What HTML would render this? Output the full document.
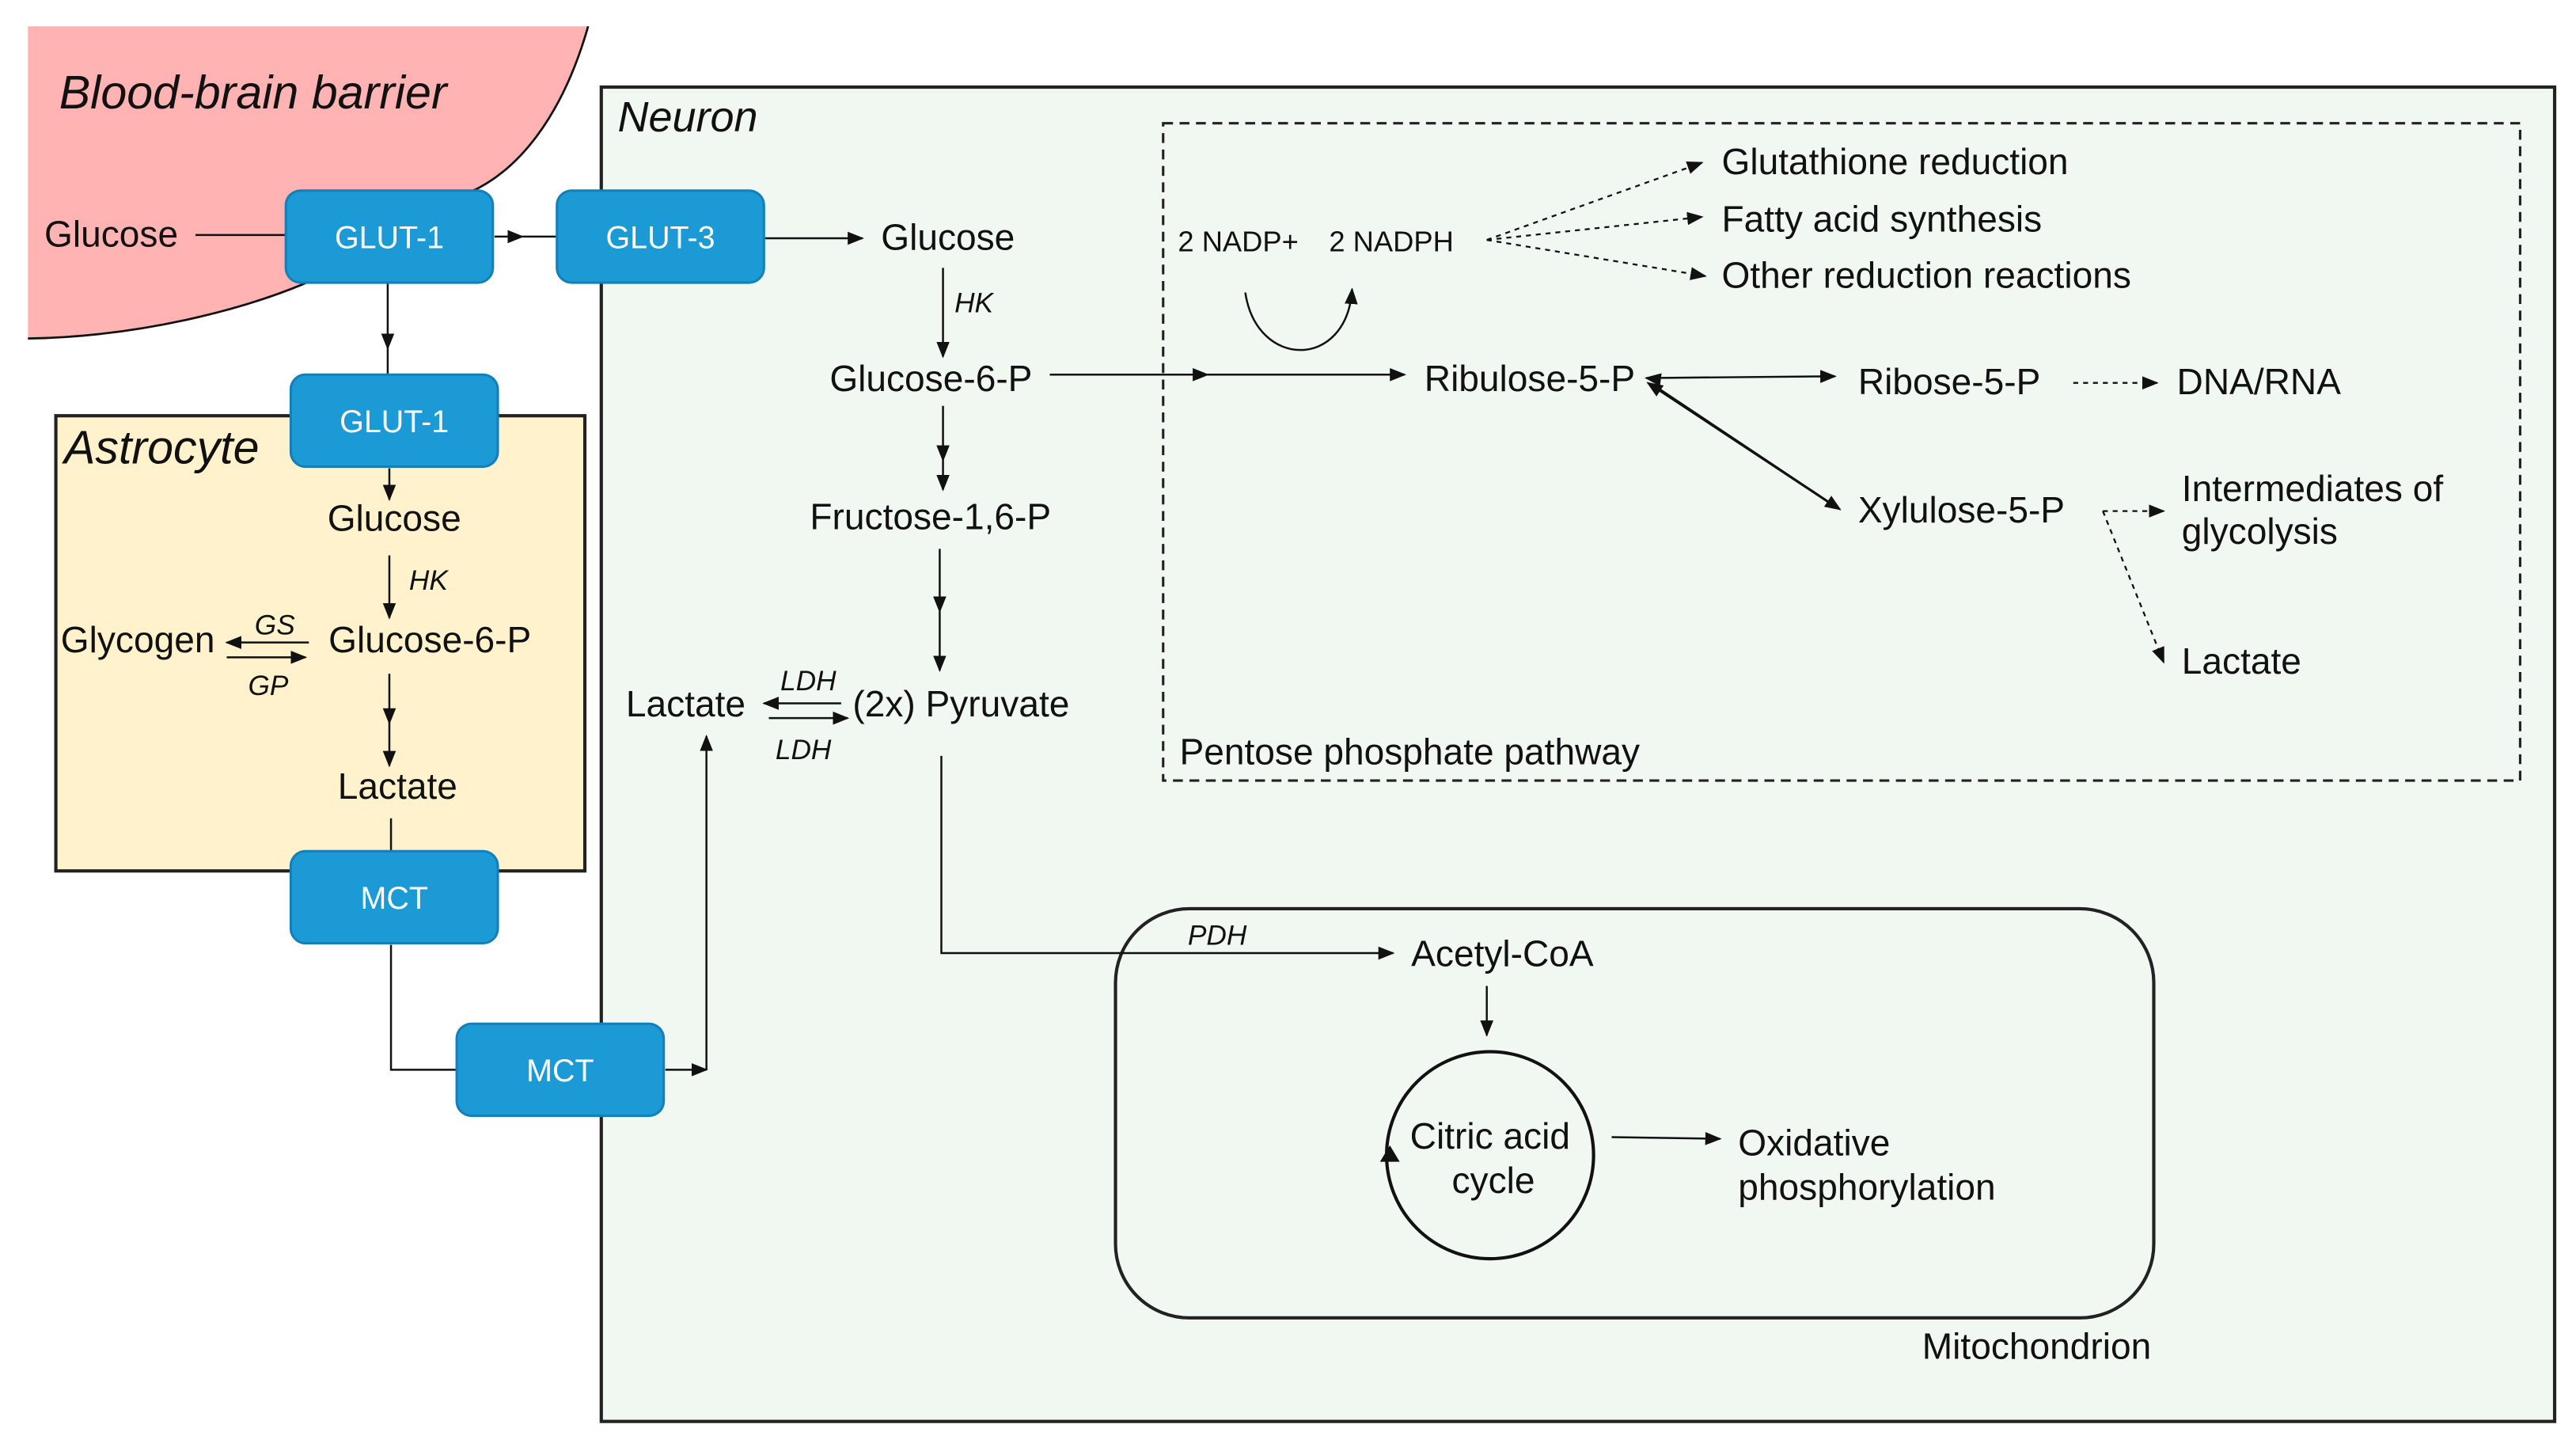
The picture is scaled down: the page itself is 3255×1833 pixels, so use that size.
<!DOCTYPE html>
<html><head><meta charset="utf-8"><style>
html,body{margin:0;padding:0;background:#fff}
svg{display:block}
text{font-family:"Liberation Sans",sans-serif;fill:#111}
.t{font-size:22.2px}
.s{font-size:17px}
.i{font-style:italic}
.w{fill:#fff;font-size:19px}
.l{stroke:#111;stroke-width:1.2;fill:none}
.d{stroke:#111;stroke-width:1.1;fill:none;stroke-dasharray:3 3}
.b{fill:#1b9ad6;stroke:#1580b8;stroke-width:1.5}
</style></head><body>
<svg width="3255" height="1833" viewBox="0 0 1568 883" preserveAspectRatio="none" xmlns="http://www.w3.org/2000/svg">
<defs><marker id="a" markerWidth="10" markerHeight="10" refX="9" refY="5" orient="auto" markerUnits="userSpaceOnUse"><path d="M0,1 L10,5 L0,9 z" fill="#111"/></marker></defs>
<!-- BBB -->
<path d="M17,16 L358,16 C342,72 315,104 286,117 L200,166 C150,190 80,205 17,206 Z" fill="#ffb3b3"/>
<path d="M358,16 C342,72 315,104 286,117 L200,166 C150,190 80,205 17,206" fill="none" stroke="#111" stroke-width="1.3"/>
<text x="36" y="66" class="i" style="font-size:28.5px">Blood-brain barrier</text>
<!-- Neuron -->
<rect x="366" y="53" width="1189" height="812" fill="#f1f7f1" stroke="#222" stroke-width="2"/>
<text x="376" y="80" class="i" style="font-size:26px">Neuron</text>
<!-- Astrocyte -->
<rect x="34" y="253" width="322" height="277" fill="#fff2cc" stroke="#222" stroke-width="2"/>
<text x="39" y="282" class="i" style="font-size:28.5px">Astrocyte</text>
<!-- PPP -->
<rect x="708" y="75" width="826" height="400" fill="none" stroke="#222" stroke-width="1.5" stroke-dasharray="6 4"/>
<text x="718" y="465" class="t">Pentose phosphate pathway</text>
<!-- Mito -->
<rect x="679" y="553" width="632" height="249" rx="45" fill="none" stroke="#222" stroke-width="2"/>
<text x="1170" y="827" class="t">Mitochondrion</text>
<!-- connectors left -->
<text x="27" y="150" class="t">Glucose</text>
<path d="M119,143 H175" class="l" stroke="#733"/>
<path d="M301,144 H318" class="l" marker-end="url(#a)"/><path d="M318,144 H340" class="l"/>
<path d="M465,145 H525" class="l" marker-end="url(#a)"/>
<path d="M236,172 V212" class="l" marker-end="url(#a)"/><path d="M236,212 V228" class="l"/>
<rect x="174" y="116" width="126" height="56" rx="9" class="b"/><text x="237" y="151" class="w" text-anchor="middle">GLUT-1</text>
<rect x="339" y="116" width="126" height="56" rx="9" class="b"/><text x="402" y="151" class="w" text-anchor="middle">GLUT-3</text>
<rect x="177" y="228" width="126" height="56" rx="9" class="b"/><text x="240" y="263" class="w" text-anchor="middle">GLUT-1</text>
<!-- astrocyte content -->
<path d="M237,285 V304" class="l" marker-end="url(#a)"/>
<text x="240" y="323" class="t" text-anchor="middle">Glucose</text>
<path d="M237,338 V376" class="l" marker-end="url(#a)"/>
<text x="249" y="359" class="s i">HK</text>
<text x="200" y="397" class="t">Glucose-6-P</text>
<text x="37" y="397" class="t">Glycogen</text>
<path d="M188,391 H138" class="l" marker-end="url(#a)"/>
<path d="M138,400 H186" class="l" marker-end="url(#a)"/>
<text x="155" y="386" class="s i">GS</text><text x="151" y="423" class="s i">GP</text>
<path d="M237,410 V440" class="l" marker-end="url(#a)"/><path d="M237,440 V466" class="l" marker-end="url(#a)"/>
<text x="242" y="486" class="t" text-anchor="middle">Lactate</text>
<path d="M238,498 V518" class="l"/>
<rect x="177" y="518" width="126" height="56" rx="9" class="b"/><text x="240" y="553" class="w" text-anchor="middle">MCT</text>
<path d="M238,575 V651 H278" class="l"/>
<rect x="278" y="623" width="126" height="56" rx="9" class="b"/><text x="341" y="658" class="w" text-anchor="middle">MCT</text>
<path d="M405,651 H430" class="l" marker-end="url(#a)"/>
<path d="M430,651 V448" class="l" marker-end="url(#a)"/>
<!-- neuron glycolysis -->
<text x="577" y="152" class="t" text-anchor="middle">Glucose</text>
<path d="M574,163 V217" class="l" marker-end="url(#a)"/>
<text x="581" y="190" class="s i">HK</text>
<text x="505" y="238" class="t">Glucose-6-P</text>
<path d="M574,247 V280" class="l" marker-end="url(#a)"/><path d="M574,280 V298" class="l" marker-end="url(#a)"/>
<text x="493" y="322" class="t">Fructose-1,6-P</text>
<path d="M572,334 V372" class="l" marker-end="url(#a)"/><path d="M572,372 V408" class="l" marker-end="url(#a)"/>
<text x="381" y="436" class="t">Lactate</text>
<text x="519" y="436" class="t">(2x) Pyruvate</text>
<path d="M512,428 H465" class="l" marker-end="url(#a)"/>
<path d="M468,437 H516" class="l" marker-end="url(#a)"/>
<text x="475" y="420" class="s i">LDH</text><text x="472" y="462" class="s i">LDH</text>
<path d="M573,460 V580 H848" class="l" marker-end="url(#a)"/>
<text x="723" y="575" class="s i">PDH</text>
<text x="859" y="588" class="t">Acetyl-CoA</text>
<path d="M905,600 V630" class="l" marker-end="url(#a)"/>
<circle cx="907" cy="703" r="63" fill="none" stroke="#111" stroke-width="2"/>
<path d="M846,697 l-6,10 h12 z" fill="#111"/>
<text x="907" y="699" class="t" text-anchor="middle">Citric acid</text>
<text x="909" y="726" class="t" text-anchor="middle">cycle</text>
<path d="M981,692 L1047,693" class="l" marker-end="url(#a)"/>
<text x="1058" y="703" class="t">Oxidative</text>
<text x="1058" y="730" class="t">phosphorylation</text>
<!-- PPP content -->
<path d="M639,228 H735" class="l" marker-end="url(#a)"/><path d="M735,228 H855" class="l" marker-end="url(#a)"/>
<text x="867" y="238" class="t">Ribulose-5-P</text>
<text x="717" y="153" style="font-size:17.5px">2 NADP+</text>
<text x="809" y="153" style="font-size:17.5px">2 NADPH</text>
<path d="M758,178 C765,225 820,225 823,176" class="l" stroke-width="1.8" marker-end="url(#a)"/>
<path d="M905,146 L1036,99" class="d" marker-end="url(#a)"/>
<path d="M905,146 L1036,132" class="d" marker-end="url(#a)"/>
<path d="M905,146 L1038,168" class="d" marker-end="url(#a)"/>
<text x="1048" y="106" class="t">Glutathione reduction</text>
<text x="1048" y="141" class="t">Fatty acid synthesis</text>
<text x="1048" y="175" class="t">Other reduction reactions</text>
<path d="M1006,230 L1117,229" class="l" marker-end="url(#a)"/>
<path d="M1010,231 L1002,230" class="l" marker-end="url(#a)"/>
<path d="M1006,234 L1120,310" class="l" marker-end="url(#a)"/>
<path d="M1115,307 L1003,233" class="l" marker-end="url(#a)"/>
<text x="1131" y="240" class="t">Ribose-5-P</text>
<text x="1131" y="318" class="t">Xylulose-5-P</text>
<path d="M1262,233 H1313" class="d" marker-end="url(#a)"/>
<text x="1325" y="240" class="t">DNA/RNA</text>
<path d="M1280,311 H1317" class="d" marker-end="url(#a)"/>
<path d="M1280,311 L1317,403" class="d" marker-end="url(#a)"/>
<text x="1328" y="305" class="t">Intermediates of</text>
<text x="1328" y="331" class="t">glycolysis</text>
<text x="1328" y="410" class="t">Lactate</text>
</svg>
</body></html>
